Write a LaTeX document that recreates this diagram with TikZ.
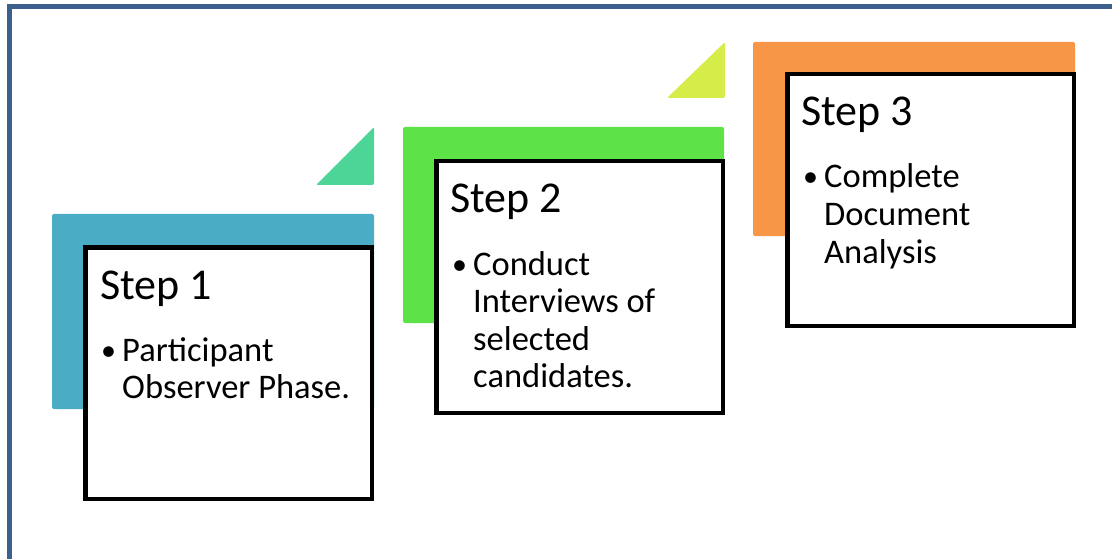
\documentclass[tikz,border=0pt]{standalone}
\usepackage{fontspec}
\setmainfont{Carlito}
\definecolor{frameblue}{HTML}{3C5F8E}
\definecolor{sone}{HTML}{4BACC6}
\definecolor{stwo}{HTML}{5DE247}
\definecolor{sthree}{HTML}{F79646}
\definecolor{tone}{HTML}{4CD596}
\definecolor{ttwo}{HTML}{D5EC49}
\begin{document}
\begin{tikzpicture}[x=1pt,y=-1pt,
  stepbox/.style={draw=black, fill=white, line width=4.5pt, rectangle, inner sep=0pt, anchor=north west},
  steptitle/.style={anchor=base west, inner sep=0pt, font=\fontsize{44}{50}\selectfont},
  stepline/.style={anchor=base west, inner sep=0pt, font=\fontsize{34.5}{37.5}\selectfont},
  stepbullet/.style={anchor=base west, inner sep=0pt, font=\fontsize{30}{37.5}\selectfont},
  bg/.style={rounded corners=2pt},
  tri/.style={rounded corners=2pt}]
\useasboundingbox (0,0) rectangle (1112,559);
\fill[white] (0,0) rectangle (1112,559);
\draw[frameblue, line width=5pt] (9.5,559) -- (9.5,6.5) -- (1112,6.5);
% coloured backgrounds
\fill[sone, bg] (52,214) rectangle (374,409);
\fill[stwo, bg] (403,127) rectangle (724,323);
\fill[sthree, bg] (753,42) rectangle (1075,236);
% triangles
\fill[tone, tri] (316,185) -- (374,127) -- (374,185) -- cycle;
\fill[ttwo, tri] (667,98) -- (725,42) -- (725,98) -- cycle;
% boxes
\node[stepbox, minimum width=286.5pt, minimum height=251.5pt] (b1) at (83,245) {};
\node[stepbox, minimum width=286.5pt, minimum height=251.5pt] (b2) at (434,159) {};
\node[stepbox, minimum width=286.5pt, minimum height=251.5pt] (b3) at (785,72) {};
% step 1
\node[steptitle] (t1) at (100,299) {Step 1};
\node[stepbullet] (u1) at (101,360) {•};
\node[stepline] (l11) at (122,361) {Participant};
\node[stepline] (l12) at (122,398.5) {Observer Phase.};
% step 2
\node[steptitle] (t2) at (450,213) {Step 2};
\node[stepbullet] (u2) at (452,274) {•};
\node[stepline] (l21) at (473,275) {Conduct};
\node[stepline] (l22) at (473,312.5) {Interviews of};
\node[stepline] (l23) at (473,350) {selected};
\node[stepline] (l24) at (473,387.5) {candidates.};
% step 3
\node[steptitle] (t3) at (801,126) {Step 3};
\node[stepbullet] (u3) at (803,187) {•};
\node[stepline] (l31) at (824,188) {Complete};
\node[stepline] (l32) at (824,225.5) {Document};
\node[stepline] (l33) at (824,263) {Analysis};
\end{tikzpicture}
\end{document}
